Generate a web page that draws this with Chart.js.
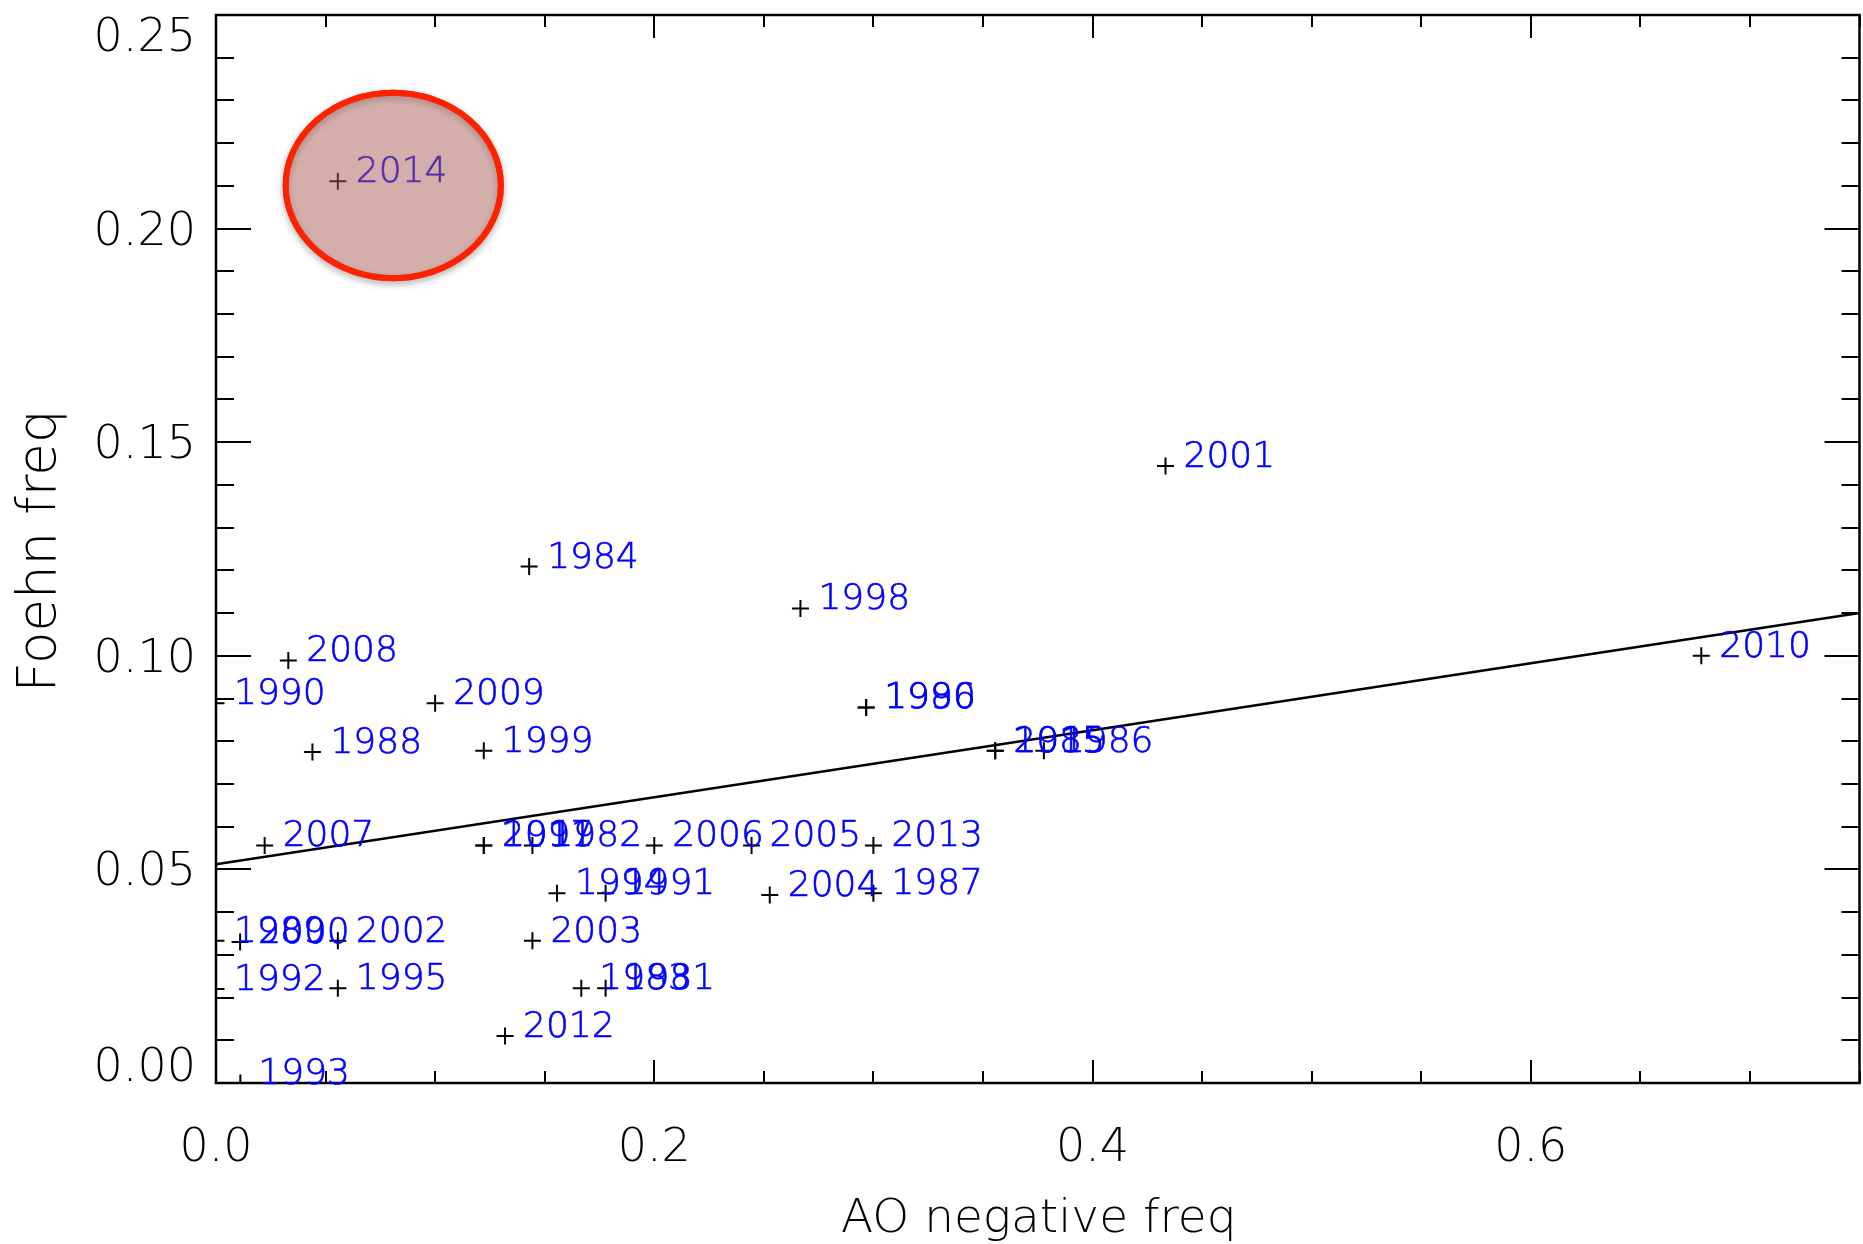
<!DOCTYPE html>
<html>
<head>
<meta charset="utf-8">
<title>Foehn freq vs AO negative freq</title>
<script src="https://cdn.jsdelivr.net/npm/chart.js@4.4.1/dist/chart.umd.min.js"></script>
<style>
  html, body { margin: 0; padding: 0; background: #ffffff; overflow: hidden; }
  #wrap { position: relative; width: 1870px; height: 1244px; }
</style>
</head>
<body>
<div id="wrap"><canvas id="chart"></canvas></div>
<script>
// Winter (DJF) statistics per year
const years = [
  1980, 1981, 1982, 1983, 1984, 1985, 1986, 1987, 1988, 1989,
  1990, 1991, 1992, 1993, 1994, 1995, 1996, 1997, 1998, 1999,
  2000, 2001, 2002, 2003, 2004, 2005, 2006, 2007, 2008, 2009,
  2010, 2011, 2012, 2013, 2014, 2015
];
// Frequency of negative AO days
const aoNegFreq = [
  0.2967, 0.1778, 0.1444, 0.1667, 0.1429, 0.3556, 0.3778, 0.3000, 0.0440, 0.0000,
  0.0000, 0.1778, 0.0000, 0.0111, 0.1556, 0.0556, 0.2967, 0.1222, 0.2667, 0.1222,
  0.0110, 0.4333, 0.0556, 0.1444, 0.2527, 0.2444, 0.2000, 0.0222, 0.0330, 0.1000,
  0.6778, 0.1222, 0.1319, 0.3000, 0.0556, 0.3556
];
// Frequency of foehn days
const foehnFreq = [
  0.0879, 0.0222, 0.0556, 0.0222, 0.1209, 0.0778, 0.0778, 0.0444, 0.0775, 0.0333,
  0.0889, 0.0444, 0.0220, 0.0000, 0.0444, 0.0222, 0.0879, 0.0556, 0.1111, 0.0778,
  0.0330, 0.1444, 0.0333, 0.0333, 0.0440, 0.0556, 0.0556, 0.0556, 0.0989, 0.0889,
  0.1000, 0.0556, 0.0110, 0.0556, 0.2111, 0.0778
];
// Least-squares line, end points across the x range
const fitX = [0.0, 0.75];
const fitY = [0.0512, 0.1100];

// Axes
const xRange = [0, 0.75];
const yRange = [0, 0.25];
const xTickValues = [0.0, 0.2, 0.4, 0.6];
const xTickLabels = ['0.0', '0.2', '0.4', '0.6'];
const yTickValues = [0.00, 0.05, 0.10, 0.15, 0.20, 0.25];
const yTickLabels = ['0.00', '0.05', '0.10', '0.15', '0.20', '0.25'];
const xMinorStep = 0.05;
const yMinorStep = 0.01;
const xTitle = 'AO negative freq';
const yTitle = 'Foehn freq';

// Year singled out with a circled marker
const highlightYear = 2014;

const FONT = '"DejaVu Sans", "Liberation Sans", sans-serif';
const WEIGHT = '200 ';

function isMajor(list, v) {
  return list.some(t => Math.abs(t - v) < 1e-9);
}

// Box frame with inward major/minor ticks on all four sides
const frameTicks = {
  id: 'frameTicks',
  beforeDatasetsDraw(chart) {
    const { ctx, chartArea: a, scales: { x, y } } = chart;
    ctx.save();
    ctx.strokeStyle = '#000000';
    ctx.lineWidth = 2.5;
    ctx.strokeRect(a.left, a.top, a.right - a.left, a.bottom - a.top);
    ctx.lineWidth = 2;
    ctx.beginPath();
    const nx = Math.round((xRange[1] - xRange[0]) / xMinorStep);
    for (let i = 0; i <= nx; i++) {
      const v = xRange[0] + i * xMinorStep;
      const len = isMajor(xTickValues, v) ? 23 : 12;
      const px = Math.round(x.getPixelForValue(v));
      ctx.moveTo(px, a.bottom); ctx.lineTo(px, a.bottom - len);
      ctx.moveTo(px, a.top); ctx.lineTo(px, a.top + len);
    }
    const ny = Math.round((yRange[1] - yRange[0]) / yMinorStep);
    for (let i = 0; i <= ny; i++) {
      const v = yRange[0] + i * yMinorStep;
      const len = isMajor(yTickValues, v) ? 35 : 18;
      const py = Math.round(y.getPixelForValue(v));
      ctx.moveTo(a.left, py); ctx.lineTo(a.left + len, py);
      ctx.moveTo(a.right, py); ctx.lineTo(a.right - len, py);
    }
    ctx.stroke();
    ctx.restore();
  },
  afterDatasetsDraw(chart) {
    const { ctx, scales: { x, y } } = chart;
    ctx.save();
    ctx.fillStyle = '#0000ff';
    ctx.strokeStyle = '#0000ff';
    ctx.lineWidth = 0.6;
    ctx.font = WEIGHT + '36px ' + FONT;
    ctx.textAlign = 'left';
    ctx.textBaseline = 'alphabetic';
    years.forEach((yr, i) => {
      const px = x.getPixelForValue(aoNegFreq[i]);
      const py = y.getPixelForValue(foehnFreq[i]);
      ctx.fillText(String(yr), px + 18, py + 1);
      ctx.strokeText(String(yr), px + 18, py + 1);
    });
    ctx.restore();
  },
  afterDraw(chart) {
    const { ctx, chartArea: a, scales: { x, y } } = chart;
    ctx.save();
    ctx.fillStyle = '#000000';
    // tick labels; the end labels are kept inside the frame's height
    ctx.font = WEIGHT + '46px ' + FONT;
    ctx.textAlign = 'right';
    ctx.textBaseline = 'middle';
    yTickValues.forEach((v, i) => {
      let py = y.getPixelForValue(v) + 4;
      py = Math.min(Math.max(py, a.top + 24), a.bottom - 14);
      ctx.fillText(yTickLabels[i], a.left - 20, py);
    });
    ctx.textAlign = 'center';
    xTickValues.forEach((v, i) => {
      ctx.fillText(xTickLabels[i], x.getPixelForValue(v), a.bottom + 66);
    });
    // axis titles
    ctx.textBaseline = 'alphabetic';
    ctx.font = WEIGHT + '47px ' + FONT;
    ctx.fillText(xTitle, (a.left + a.right) / 2 + 1, a.bottom + 149);
    ctx.save();
    ctx.translate(55, (a.top + a.bottom) / 2 + 2);
    ctx.rotate(-Math.PI / 2);
    ctx.font = WEIGHT + '53px ' + FONT;
    ctx.fillText(yTitle, 0, 0);
    ctx.restore();

    // circled highlight around one year
    const k = years.indexOf(highlightYear);
    if (k >= 0) {
      const cx = x.getPixelForValue(aoNegFreq[k] + 0.0253);
      const cy = y.getPixelForValue(foehnFreq[k] - 0.0010);
      const rx = x.getPixelForValue(0.0491) - x.getPixelForValue(0);
      const ry = y.getPixelForValue(0) - y.getPixelForValue(0.0217);
      ctx.beginPath();
      ctx.ellipse(cx, cy, rx, ry, 0, 0, Math.PI * 2);
      ctx.save();
      ctx.shadowColor = 'rgba(0,0,0,0.35)';
      ctx.shadowBlur = 7;
      ctx.shadowOffsetY = 3;
      ctx.strokeStyle = '#ff2200';
      ctx.lineWidth = 6;
      ctx.stroke();
      ctx.restore();
      ctx.fillStyle = 'rgba(170,93,85,0.5)';
      ctx.fill();
      ctx.strokeStyle = '#ff2200';
      ctx.lineWidth = 6;
      ctx.stroke();
    }
    ctx.restore();
  }
};

new Chart(document.getElementById('chart'), {
  type: 'scatter',
  data: {
    datasets: [
      {
        label: 'years',
        data: years.map((yr, i) => ({ x: aoNegFreq[i], y: foehnFreq[i] })),
        pointStyle: 'cross',
        pointRadius: 8.5,
        pointHoverRadius: 8.5,
        borderColor: '#000000',
        backgroundColor: '#000000',
        borderWidth: 2,
        pointBorderWidth: 2
      },
      {
        type: 'line',
        label: 'fit',
        data: fitX.map((v, i) => ({ x: v, y: fitY[i] })),
        borderColor: '#000000',
        borderWidth: 2.5,
        pointRadius: 0,
        fill: false,
        tension: 0
      }
    ]
  },
  options: {
    responsive: true,
    maintainAspectRatio: false,
    animation: false,
    events: [],
    layout: { padding: { left: 216, top: 15, right: 4, bottom: 161 } },
    scales: {
      x: { type: 'linear', min: xRange[0], max: xRange[1], display: false },
      y: { type: 'linear', min: yRange[0], max: yRange[1], display: false }
    },
    plugins: { legend: { display: false }, tooltip: { enabled: false } }
  },
  plugins: [frameTicks]
});
</script>
</body>
</html>
